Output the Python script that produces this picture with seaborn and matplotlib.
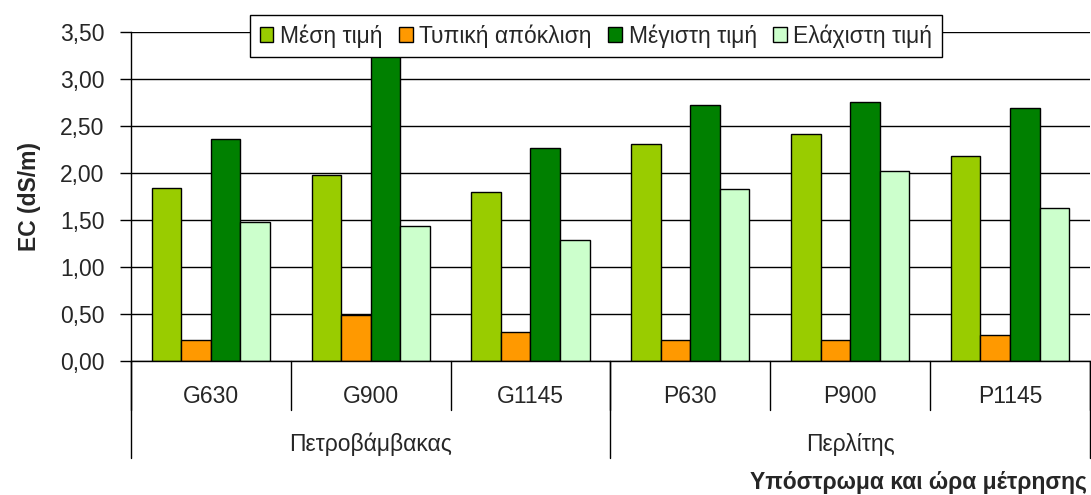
import numpy as np
import pandas as pd
import matplotlib
matplotlib.use("Agg")
import matplotlib.pyplot as plt
import seaborn as sns
from matplotlib.patches import Patch
from matplotlib.ticker import FuncFormatter

# values
samples = ["G630", "G900", "G1145", "P630", "P900", "P1145"]
substrates = ["Πετροβάμβακας", "Περλίτης"]
series = ["Μέση τιμή", "Τυπική απόκλιση", "Μέγιστη τιμή", "Ελάχιστη τιμή"]
mean_vals = [1.84, 1.98, 1.80, 2.31, 2.42, 2.18]
std_vals = [0.22, 0.49, 0.31, 0.22, 0.22, 0.27]
max_vals = [2.36, 3.40, 2.27, 2.72, 2.76, 2.69]
min_vals = [1.48, 1.44, 1.29, 1.83, 2.02, 1.63]
colors = ["#99CC00", "#FF9900", "#008000", "#CCFFCC"]

df = pd.DataFrame({
    "sample": samples * 4,
    "series": np.repeat(series, len(samples)),
    "EC": mean_vals + std_vals + max_vals + min_vals,
})

sns.set_style("white")
plt.rcParams["font.family"] = ["Liberation Sans", "DejaVu Sans"]
FS = 16.5

fig, ax = plt.subplots(figsize=(10.91, 4.95), dpi=100)
fig.subplots_adjust(left=0.120, right=0.999, bottom=0.271, top=0.935)

sns.barplot(data=df, x="sample", y="EC", hue="series", order=samples,
            hue_order=series, palette=colors, width=0.74, gap=0,
            edgecolor="black", linewidth=1, saturation=1, ax=ax,
            legend=False, zorder=2)

ax.set_ylim(0, 3.5)
ax.set_xlim(-0.5, len(samples) - 0.5)
ax.set_yticks(np.arange(0, 3.51, 0.5))
ax.yaxis.set_major_formatter(FuncFormatter(lambda v, p: f"{v:.2f}".replace(".", ",")))
ax.yaxis.grid(True, color="black", linewidth=1)
ax.set_axisbelow(True)
ax.tick_params(axis="y", left=True, length=8, width=1, color="black",
               labelsize=FS, pad=11)
ax.tick_params(axis="x", bottom=False, labelbottom=False)
for side in ["top", "right"]:
    ax.spines[side].set_visible(False)
for side in ["left", "bottom"]:
    ax.spines[side].set_color("black")
    ax.spines[side].set_linewidth(1)

ax.set_xlabel("")
ax.set_ylabel("EC (dS/m)", fontsize=FS, fontweight="bold", labelpad=14)

# two-level category axis
trans = ax.get_xaxis_transform()
for i, s in enumerate(samples):
    ax.text(i, -0.109, s, transform=trans, ha="center", va="center", fontsize=FS)
for b in np.arange(-0.5, len(samples), 1.0):
    ax.plot([b, b], [0, -0.149], transform=trans, color="black", lw=1, clip_on=False)
for j, name in enumerate(substrates):
    ax.text(j * 3 + 1, -0.255, name, transform=trans, ha="center", va="center", fontsize=FS)
for b in [-0.5, 2.5, 5.5]:
    ax.plot([b, b], [0, -0.295], transform=trans, color="black", lw=1, clip_on=False)

fig.text(0.996, 0.026, "Υπόστρωμα και ώρα μέτρησης", ha="right", va="center",
         fontsize=FS, fontweight="bold")

handles = [Patch(facecolor=c, edgecolor="black", linewidth=1) for c in colors]
leg = ax.legend(handles, series, ncol=4, loc="upper center",
                bbox_to_anchor=(0.485, 1.052), fontsize=FS, frameon=True,
                fancybox=False, edgecolor="black", framealpha=1,
                handlelength=0.6, handleheight=0.6, handletextpad=0.3,
                columnspacing=0.7, borderpad=0.4, borderaxespad=0)
leg.get_frame().set_linewidth(1)
leg.set_zorder(5)

fig.savefig("out.png", dpi=100)
